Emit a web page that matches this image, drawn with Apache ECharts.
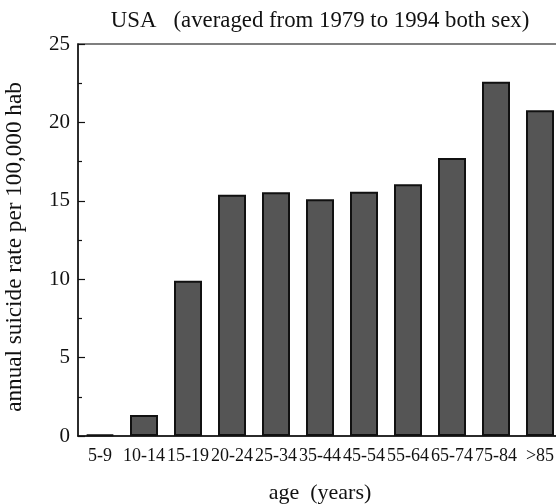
<!DOCTYPE html>
<html><head><meta charset="utf-8">
<script src="https://cdn.jsdelivr.net/npm/echarts@6/dist/echarts.min.js"></script>
<style>html,body{margin:0;padding:0;background:#fff}#c{width:556px;height:504px}</style>
</head><body><div id="c"></div>
<script>
const categories = ['5-9','10-14','15-19','20-24','25-34','35-44','45-54','55-64','65-74','75-84','>85'];
const rates = [0.08, 1.34, 9.9, 15.39, 15.54, 15.1, 15.58, 16.05, 17.73, 22.6, 20.77];
const yTicks = { min: 0, max: 25, interval: 5 };
const titleText = 'USA   (averaged from 1979 to 1994 both sex)';
const xName = 'age  (years)';
const yName = 'annual suicide rate per 100,000 hab';

const font = 'Liberation Serif, Times New Roman, serif';
const chart = echarts.init(document.getElementById('c'));
chart.setOption({
  animation: false,
  title: [
    { text: titleText, left: 315, top: 5, textAlign: 'center',
      textStyle: { fontFamily: font, fontWeight: 'normal', fontSize: 22.8, color: '#111' } }
  ],
  grid: { left: 78, top: 44, width: 484, height: 392, outerBoundsMode: 'none',
          show: true, borderColor: '#555', borderWidth: 1.5, backgroundColor: 'transparent' },
  xAxis: [
    { type: 'category', data: categories, position: 'bottom',
      name: xName, nameLocation: 'middle', nameGap: 46,
      nameTextStyle: { fontFamily: font, fontSize: 22, color: '#111' },
      axisLine: { lineStyle: { color: '#111', width: 1.5 } },
      axisTick: { alignWithLabel: true, length: 8, lineStyle: { color: '#111', width: 1.2 } },
      axisLabel: { interval: 0, fontFamily: font, fontSize: 18, color: '#111', margin: 11 } },
    { type: 'category', data: categories, position: 'bottom',
      axisLine: { show: false },
      axisTick: { alignWithLabel: false, length: 5, lineStyle: { color: '#111', width: 1.2 } },
      axisLabel: { show: false } }
  ],
  yAxis: {
    type: 'value', min: yTicks.min, max: yTicks.max, interval: yTicks.interval,
    name: yName, nameLocation: 'middle', nameGap: 52, nameRotate: 90,
    nameTextStyle: { fontFamily: font, fontSize: 23.2, color: '#111', padding: [0, 14, 0, 0] },
    axisLine: { show: true, lineStyle: { color: '#111', width: 1.5 } },
    axisTick: { show: true, inside: true, length: 7, lineStyle: { color: '#111', width: 1.2 } },
    minorTick: { show: true, splitNumber: 2, length: 4, lineStyle: { color: '#111', width: 1.2 } },
    splitLine: { show: false },
    axisLabel: { fontFamily: font, fontSize: 21, color: '#111', margin: 8 }
  },
  series: [{
    type: 'bar', data: rates, barWidth: 28, xAxisIndex: 0,
    itemStyle: { color: '#555555', borderColor: '#111', borderWidth: 2 }
  }]
});
</script></body></html>
